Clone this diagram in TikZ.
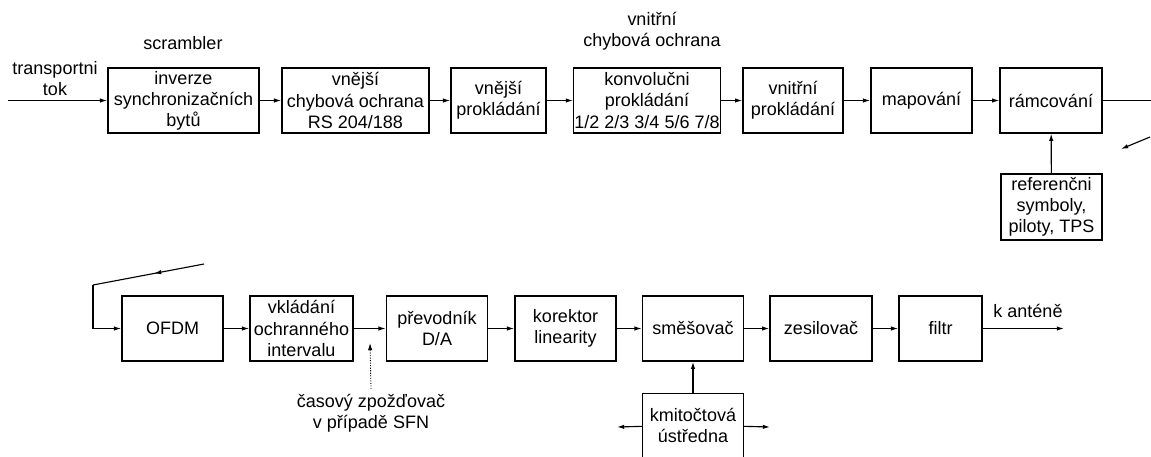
\documentclass[tikz,border=0pt]{standalone}
\usepackage{fontspec}
\setmainfont{Liberation Sans}
\usetikzlibrary{positioning,arrows.meta,calc}

\tikzset{
  blok/.style={draw, line width=1pt, align=center, minimum width=#1,
    minimum height=1.625cm, inner sep=0.5pt},
  blok/.default=2.53cm,
  spoj/.style={line width=0.8pt, -{Latex[length=1.8mm,width=1.1mm]}},
  popis/.style={align=center}
}

\begin{document}
\begin{tikzpicture}[x=0.025cm, y=-0.025cm, font=\fontsize{12.8}{15}\selectfont]
    \useasboundingbox (0,0) rectangle (1151,456);

    % Top row
    \node[blok=3.78cm] (inverze) at (183.5,100.5) {inverze\\synchronizačních\\bytů};
    \node[blok=3.68cm] (vnejsi) at (355.5,100.5) {vnější\\chybová ochrana\\RS 204/188};
    \node[blok=2.38cm] (vnprokl) at (498.5,100.5) {vnější\\prokládání};
    \node[blok=3.65cm] (konv) at (647,100.5) {konvolučni\\prokládání\\1/2 2/3 3/4 5/6 7/8};
    \node[blok=2.5cm] (vnitrni) at (793,100.5) {vnitřní\\prokládání};
    \node[blok] (mapovani) at (921.5,100.5) {mapování};
    \node[blok=2.55cm] (ramcovani) at (1051,100.5) {rámcování};
    \node[blok, minimum height=1.65cm] (referencni) at (1051.5,207) {referenčni\\symboly,\\piloty, TPS};

    % Bottom row
    \node[blok] (ofdm) at (172.5,328.5) {OFDM};
    \node[blok=2.58cm] (vkladani) at (301.5,328.5) {vkládání\\ochranného\\intervalu};
    \node[blok] (prevodnik) at (437,328.5) {převodník\\D/A};
    \node[blok] (korektor) at (565.5,328.5) {korektor\\linearity};
    \node[blok] (smesovac) at (693,328.5) {směšovač};
    \node[blok=2.55cm] (zesilovac) at (821,328.5) {zesilovač};
    \node[blok=2.08cm] (filtr) at (940.5,328.5) {filtr};

    % Oscillator box, open at the bottom
    \node[popis, minimum width=2.5cm, minimum height=1.55cm] (kmitoctova) at (693,425) {kmitočtová\\ústředna};
    \draw[line width=1pt] ([yshift=-8pt]kmitoctova.south west) |- (kmitoctova.north east)
        -- ([yshift=-8pt]kmitoctova.south east);

    % Signal chain
    \coordinate (vstup) at (8,100.5);
    \draw[spoj] (vstup) -- (inverze);
    \foreach \a/\b in {inverze/vnejsi, vnejsi/vnprokl, vnprokl/konv, konv/vnitrni,
        vnitrni/mapovani, mapovani/ramcovani, ofdm/vkladani, vkladani/prevodnik,
        prevodnik/korektor, korektor/smesovac, smesovac/zesilovac, zesilovac/filtr}
        \draw[spoj] (\a) -- (\b);
    \draw[spoj] (referencni) -- (ramcovani);
    \draw[spoj] (kmitoctova.north) -- (smesovac);

    % Jump from the top row to the bottom row
    \coordinate (ven) at (1151,100.5);
    \coordinate (skok1) at (1150,137);
    \coordinate (skok2) at (1121,149);
    \draw[line width=0.8pt] (ramcovani) -- (ven);
    \draw[spoj] (skok1) -- (skok2);
    \coordinate (navrat) at (204,264);
    \coordinate (roh) at (93,285);
    \draw[spoj] (navrat) -- ($(navrat)!0.45!(roh)$);
    \draw[line width=0.8pt] ($(navrat)!0.4!(roh)$) -- (roh);
    \draw[spoj] (roh) |- (ofdm);

    % Outputs
    \coordinate (antena) at (1064,328.5);
    \coordinate (kmL) at (617,427);
    \coordinate (kmR) at (770,427);
    \draw[spoj] (filtr) -- (antena);
    \draw[spoj] (kmitoctova) -- (kmL);
    \draw[spoj] (kmitoctova) -- (kmR);

    % Labels
    \node[popis] (transport) at (55,79) {transportni\\tok};
    \node[popis] (scrambler) at (183,43) {scrambler};
    \node[popis] (vnitrniochr) at (652,31) {vnitřní\\chybová ochrana};
    \node[popis] (kantene) at (1028,311) {k anténě};
    \node[popis] (zpozdovac) at (371,413) {časový zpožďovač\\v případě SFN};
    \coordinate (zpozd) at (370,343);
    \draw[spoj, densely dotted, line width=0.6pt] (zpozdovac.north) -- (zpozd);
\end{tikzpicture}
\end{document}
